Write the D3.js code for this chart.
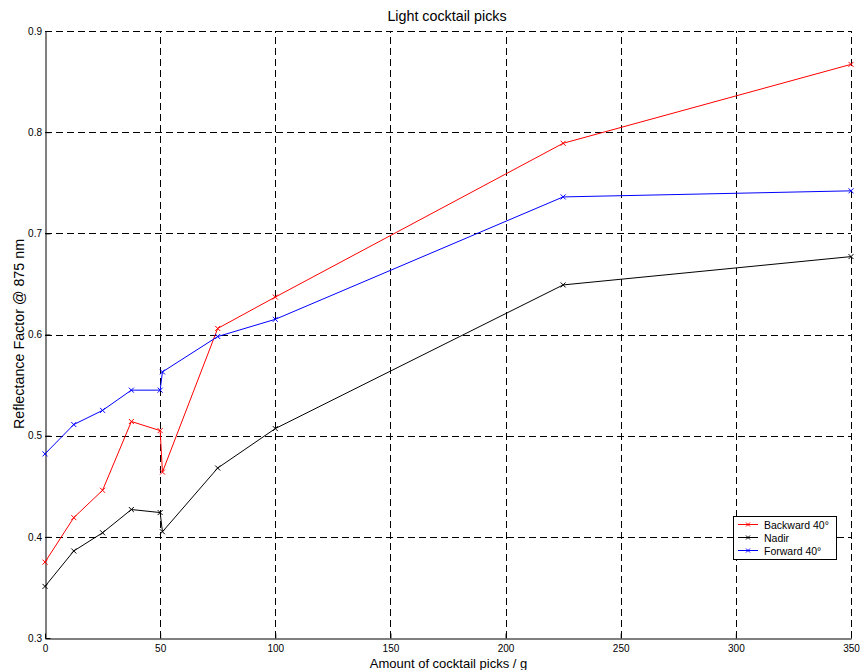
<!DOCTYPE html>
<html>
<head>
<meta charset="utf-8">
<script src="https://cdn.jsdelivr.net/npm/d3@7"></script>
<style>
  html, body { margin: 0; padding: 0; background: #fff; }
  svg { display: block; font-family: "Liberation Sans", Arial, Helvetica, sans-serif; }
</style>
</head>
<body>
<svg id="chart" width="860" height="670"></svg>
<script>
const amounts = [0, 12.5, 25, 37.5, 50, 51, 75, 100, 225, 350];
const backward40 = [0.375, 0.419, 0.446, 0.514, 0.505, 0.464, 0.606, 0.637, 0.789, 0.867];
const nadir      = [0.351, 0.386, 0.404, 0.427, 0.424, 0.405, 0.468, 0.507, 0.649, 0.677];
const forward40  = [0.482, 0.511, 0.525, 0.545, 0.545, 0.563, 0.598, 0.615, 0.736, 0.742];
const seriesNames = ["Backward 40°", "Nadir", "Forward 40°"];
const seriesColors = ["#ff0000", "#000000", "#0000ff"];
const xTicks = [0, 50, 100, 150, 200, 250, 300, 350];
const yTicks = [0.3, 0.4, 0.5, 0.6, 0.7, 0.8, 0.9];

(function () {
const series = [backward40, nadir, forward40].map((vals, i) => ({
  name: seriesNames[i], color: seriesColors[i],
  points: amounts.map((a, j) => ({ x: a, y: vals[j] }))
}));

const svg = d3.select("#chart");
const pL = 45, pR = 851, pT = 31, pB = 638;
const x = d3.scaleLinear().domain([0, 350]).range([pL, pR]);
const y = d3.scaleLinear().domain([0.3, 0.9]).range([pB, pT]);

// grid
const grid = svg.append("g").attr("stroke", "#000").attr("stroke-width", 1)
  .attr("stroke-dasharray", "7,4").attr("shape-rendering", "crispEdges");
xTicks.slice(1).forEach(t => {
  grid.append("line").attr("x1", Math.round(x(t)) + 0.5).attr("x2", Math.round(x(t)) + 0.5)
    .attr("y1", pB).attr("y2", pT);
});
yTicks.slice(1).forEach(t => {
  grid.append("line").attr("x1", pL).attr("x2", pR)
    .attr("y1", Math.round(y(t)) + 0.5).attr("y2", Math.round(y(t)) + 0.5);
});

// axes
const xAxis = d3.axisBottom(x).tickValues(xTicks).tickSizeInner(-5).tickSizeOuter(0).tickPadding(6.5)
  .tickFormat(d3.format("d"));
const gx = svg.append("g").attr("transform", `translate(0,${pB + 0.5})`).call(xAxis);
gx.select(".domain").attr("stroke", "#000");
gx.selectAll(".tick line").attr("stroke", "#000");
gx.selectAll("text").attr("font-size", 10).attr("fill", "#000")
  .attr("font-family", "Liberation Sans, Arial, sans-serif");

const yAxis = d3.axisLeft(y).tickValues(yTicks).tickSizeInner(-5).tickSizeOuter(0).tickPadding(3.5)
  .tickFormat(d3.format(".1f"));
const gy = svg.append("g").attr("transform", `translate(${pL + 0.5},0)`).call(yAxis);
gy.select(".domain").attr("stroke", "#000");
gy.selectAll(".tick line").attr("stroke", "#000");
gy.selectAll("text").attr("font-size", 10).attr("fill", "#000")
  .attr("font-family", "Liberation Sans, Arial, sans-serif");

// lines
const line = d3.line().x(d => x(d.x)).y(d => y(d.y));
const ms = 2.5;
series.forEach(s => {
  svg.append("path").datum(s.points).attr("d", line)
    .attr("fill", "none").attr("stroke", s.color).attr("stroke-width", 1);
  svg.append("g").selectAll("path").data(s.points).join("path")
    .attr("d", d => {
      const cx = x(d.x), cy = y(d.y);
      return `M${cx - ms},${cy - ms}L${cx + ms},${cy + ms}M${cx - ms},${cy + ms}L${cx + ms},${cy - ms}`;
    })
    .attr("stroke", s.color).attr("stroke-width", 1);
});

// titles
svg.append("text").attr("x", 447).attr("y", 20.5).attr("text-anchor", "middle")
  .attr("font-size", 14.3).text("Light cocktail picks");
svg.append("text").attr("x", 448.5).attr("y", 667.5).attr("text-anchor", "middle")
  .attr("font-size", 13).text("Amount of cocktail picks / g");
svg.append("text").attr("transform", "translate(24,334) rotate(-90)").attr("text-anchor", "middle")
  .attr("font-size", 14.3).text("Reflectance Factor @ 875 nm");

// legend
const lg = svg.append("g").attr("transform", "translate(733,516)");
lg.append("rect").attr("x", 0.5).attr("y", 0.5).attr("width", 103).attr("height", 43)
  .attr("fill", "#fff").attr("stroke", "#000").attr("stroke-width", 1);
series.forEach((s, i) => {
  const ry = 8.5 + i * 13;
  lg.append("line").attr("x1", 5).attr("x2", 25).attr("y1", ry).attr("y2", ry)
    .attr("stroke", s.color).attr("stroke-width", 1);
  lg.append("path").attr("d", `M${15 - 2},${ry - 2}L${15 + 2},${ry + 2}M${15 - 2},${ry + 2}L${15 + 2},${ry - 2}`)
    .attr("stroke", s.color).attr("stroke-width", 1);
  lg.append("text").attr("x", 31).attr("y", ry + 4).attr("font-size", 10.5).text(s.name);
});
})();
</script>
</body>
</html>
